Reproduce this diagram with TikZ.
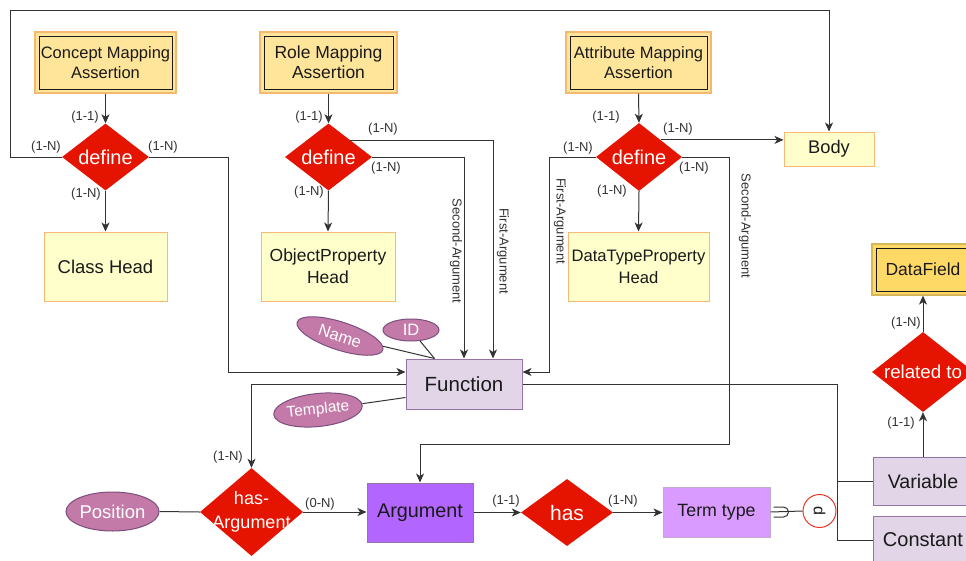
\documentclass[tikz,border=0pt]{standalone}
\usepackage{fontspec}
\setmainfont{Liberation Sans}
\usetikzlibrary{shapes.geometric,arrows.meta,calc}

\definecolor{relred}{HTML}{E51400}
\definecolor{mapfill}{HTML}{FFE599}
\definecolor{mapline}{HTML}{F4B870}
\definecolor{headfill}{HTML}{FFFFCC}
\definecolor{headline}{HTML}{F7B977}
\definecolor{dffill}{HTML}{FFD966}
\definecolor{dfline}{HTML}{D6B656}
\definecolor{lilac}{HTML}{E1D5E7}
\definecolor{lilacline}{HTML}{9673A6}
\definecolor{argfill}{HTML}{B266FF}
\definecolor{termfill}{HTML}{D99BFF}
\definecolor{attrfill}{HTML}{C47AA8}
\definecolor{attrline}{HTML}{7A4F7E}
\definecolor{ink}{HTML}{1A1A1A}
\definecolor{linegray}{HTML}{333333}
\definecolor{labgray}{HTML}{333333}

\newcommand{\myfs}[2]{\fontsize{#1}{#2}\selectfont}

\tikzset{
  conn/.style={draw=linegray, line width=1pt},
  arr/.style={conn, -{Stealth[length=9pt,width=8pt,inset=2.5pt]}},
  card/.style={font=\myfs{13}{15}, text=labgray, inner sep=0pt},
  argtext/.style={rotate=-90, font=\myfs{13}{15}, text=labgray, inner sep=0pt},
  relship/.style={diamond, fill=relred, draw=none, inner sep=0pt},
  reltext/.style={text=white, align=center, inner sep=0pt},
  headbox/.style={rectangle, fill=headfill, draw=headline, line width=1pt,
    align=center, text=ink, inner sep=0pt},
  mapbox/.style={rectangle, fill=mapfill, draw=mapline, line width=1.2pt,
    align=center, text=ink, inner sep=0pt,
    path picture={\draw[ink, line width=1pt]
      ([shift={(4pt,-4pt)}]path picture bounding box.north west) rectangle
      ([shift={(-4pt,4pt)}]path picture bounding box.south east);}},
  entity/.style={rectangle, fill=lilac, draw=lilacline, line width=1pt,
    align=center, text=ink, inner sep=0pt},
  attr/.style={ellipse, fill=attrfill, draw=attrline, line width=1pt,
    text=white, inner sep=0pt},
}

\begin{document}
\begin{tikzpicture}[x=1pt,y=-1pt]
\useasboundingbox (0,0) rectangle (966,560);
\fill[white] (0,0) rectangle (966,560);
\clip (0,0) rectangle (966,560);

% mapping assertions
\node[mapbox, minimum width=141pt, minimum height=61pt, font=\myfs{16.5}{20}]
  (cma) at (105.5,62.5) {Concept Mapping\\Assertion};
\node[mapbox, minimum width=137pt, minimum height=61pt, font=\myfs{17.5}{20}]
  (rma) at (328.5,62.5) {Role Mapping\\Assertion};
\node[mapbox, minimum width=145pt, minimum height=61pt, font=\myfs{16.5}{20}]
  (ama) at (638.5,62.5) {Attribute Mapping\\Assertion};

% define relationships
\node[relship, minimum width=87pt, minimum height=67pt] (d1) at (105.5,157) {};
\node[relship, minimum width=87pt, minimum height=67pt] (d2) at (328.5,157) {};
\node[relship, minimum width=86pt, minimum height=68pt] (d3) at (639,157) {};
\node[reltext, font=\myfs{20}{22}] (d1t) at (d1) {define};
\node[reltext, font=\myfs{20}{22}] (d2t) at (d2) {define};
\node[reltext, font=\myfs{20}{22}] (d3t) at (d3) {define};

% heads
\node[headbox, minimum width=123pt, minimum height=69pt, font=\myfs{18.5}{22}]
  (ch) at (105.5,266.5) {Class Head};
\node[headbox, minimum width=134pt, minimum height=69pt, font=\myfs{17.5}{22}]
  (oph) at (328,266.5) {ObjectProperty\\Head};
\node[headbox, minimum width=141pt, minimum height=69pt, font=\myfs{16.6}{22}]
  (dtph) at (638.5,266.5) {DataTypeProperty\\Head};
\node[headbox, minimum width=90pt, minimum height=34pt, font=\myfs{18.3}{22}]
  (body) at (829,149) {Body};

% function and its attributes
\node[entity, minimum width=116pt, minimum height=50pt, font=\myfs{20.5}{24}]
  (fn) at (464,384) {Function};
\node[attr, rotate=-18, minimum width=90pt, minimum height=28pt, font=\myfs{16.5}{18}]
  (nm) at (340,336) {Name};
\node[attr, minimum width=56pt, minimum height=22pt, font=\myfs{16.5}{18}]
  (idn) at (411,330) {ID};
\node[attr, rotate=6, minimum width=88pt, minimum height=33pt, font=\myfs{15.5}{18}]
  (tp) at (318,410) {Template};

% argument row
\node[relship, minimum width=103pt, minimum height=88pt] (ha) at (251.5,512) {};
\node[reltext, font=\myfs{18}{24}] (hat) at (ha) {has-\\Argument};
\node[attr, minimum width=89pt, minimum height=39pt, font=\myfs{18.5}{20}]
  (pos) at (112.5,511.5) {Position};
\node[entity, fill=argfill, minimum width=106pt, minimum height=59pt, font=\myfs{19.8}{22}]
  (arg) at (420,512.5) {Argument};
\node[relship, minimum width=92pt, minimum height=67pt] (has) at (567,512.5) {};
\node[reltext, font=\myfs{21}{22}] (hast) at (has) {has};
\node[entity, fill=termfill, draw=lilacline!60, minimum width=107pt, minimum height=50pt,
  font=\myfs{17.8}{22}] (tt) at (716.5,512) {Term type};
\node[circle, draw=relred!85!white, fill=white, line width=1pt, minimum size=33pt,
  inner sep=0pt] (dj) at (819.5,511) {};
\node[rotate=-90, font=\myfs{16}{18}, text=ink, inner sep=0pt] (djt) at (dj) {d};

% variable, constant and data field
\node[entity, minimum width=100pt, minimum height=48pt, font=\myfs{19.6}{22}]
  (var) at (923,481) {Variable};
\node[entity, minimum width=100pt, minimum height=48pt, font=\myfs{20}{22}]
  (cst) at (923,540) {Constant};
\node[relship, minimum width=102pt, minimum height=80pt] (rel) at (923,372) {};
\node[reltext, font=\myfs{18.7}{22}] (relt) at (rel) {related to};
\node[mapbox, fill=dffill, draw=dfline, minimum width=102pt, minimum height=51pt,
  font=\myfs{17.5}{20}] (df) at (923,269.5) {DataField};

% connectors: assertions to define
\draw[arr] (cma.south) -- (d1.north);
\draw[arr] (rma.south) -- (d2.north);
\draw[arr] (ama.south) -- (d3.north);
\draw[arr] (d1.south) -- (ch.north);
\draw[arr] (d2.south) -- (oph.north);
\draw[arr] (d3.south) -- (dtph.north);

% concept define: body loop and function
\coordinate (tl) at (10,10);
\draw[arr] (d1.west) -| (tl) -| (body.north);
\coordinate (j1) at (228,372);
\draw[arr] (d1.east) -| (j1) -- (j1 -| fn.west);

% role define: arguments of the function
\coordinate (fa) at ($(fn.north)+(29,0)$);
\draw[arr] (d2.north east) -| (fa);
\draw[arr] (d2.east) -| (fn.north);

% attribute define
\coordinate (j3) at (549,372);
\draw[arr] (d3.west) -| (j3) -- (j3 -| fn.east);
\draw[arr] (d3.north east) -- (d3.north east -| body.west);
\coordinate (j4) at (729,444);
\draw[arr] (d3.east) -| (j4) -| (arg.north);

% function attributes
\coordinate (fj) at ($(fn.north west)+(29,0)$);
\draw[conn] (nm) -- (fj);
\draw[conn] (idn) -- (fj);
\coordinate (tj) at ($(fn.south west)+(0,-12)$);
\draw[conn] (tp) -- (tj);

% function to has-Argument and to the term specialisation
\draw[arr] (fn.west) -| (ha.north);
\coordinate (bus) at (837,0);
\draw[conn] (fn.east) -| (bus |- cst.west) -- (cst.west);
\draw[conn] (bus |- var.west) -- (var.west);

% argument row
\draw[conn] (pos.east) -- (ha.west);
\draw[arr] (ha.east) -- (ha.east -| arg.west);
\draw[arr] (arg.east) -- (has.west);
\draw[arr] (has.east) -- (has.east -| tt.west);
\draw[conn] (tt.east) -- (dj.west);
\draw[conn] ([shift={(3pt,5pt)}]tt.east) -- ++(10pt,0pt)
  arc[start angle=90, end angle=-90, radius=5pt] -- ++(-10pt,0pt);

% variable to data field
\draw[arr] (var.north) -- (rel.south);
\draw[arr] (rel.north) -- (df.south);

% argument role labels
\node[argtext] (sa2) at (456,251) {Second-Argument};
\node[argtext] (fa2) at (503,251) {First-Argument};
\node[argtext] (fa3) at (560,221) {First-Argument};
\node[argtext] (sa3) at (745,226) {Second-Argument};

% cardinalities
\node[card] (c1a) at (85,117) {(1-1)};
\node[card] (c1b) at (46,147) {(1-N)};
\node[card] (c1c) at (163,147) {(1-N)};
\node[card] (c1d) at (86,194) {(1-N)};
\node[card] (c2a) at (309,117) {(1-1)};
\node[card] (c2b) at (383,129) {(1-N)};
\node[card] (c2c) at (386,168) {(1-N)};
\node[card] (c2d) at (309,192) {(1-N)};
\node[card] (c3a) at (606,117) {(1-1)};
\node[card] (c3b) at (578,148) {(1-N)};
\node[card] (c3c) at (678,129) {(1-N)};
\node[card] (c3d) at (694,168) {(1-N)};
\node[card] (c3e) at (612,191) {(1-N)};
\node[card] (c4a) at (906,323) {(1-N)};
\node[card] (c4b) at (901,423) {(1-1)};
\node[card] (c5a) at (228,457) {(1-N)};
\node[card] (c5b) at (320,504) {(0-N)};
\node[card] (c5c) at (506,501) {(1-1)};
\node[card] (c5d) at (623,501) {(1-N)};
\end{tikzpicture}
\end{document}
